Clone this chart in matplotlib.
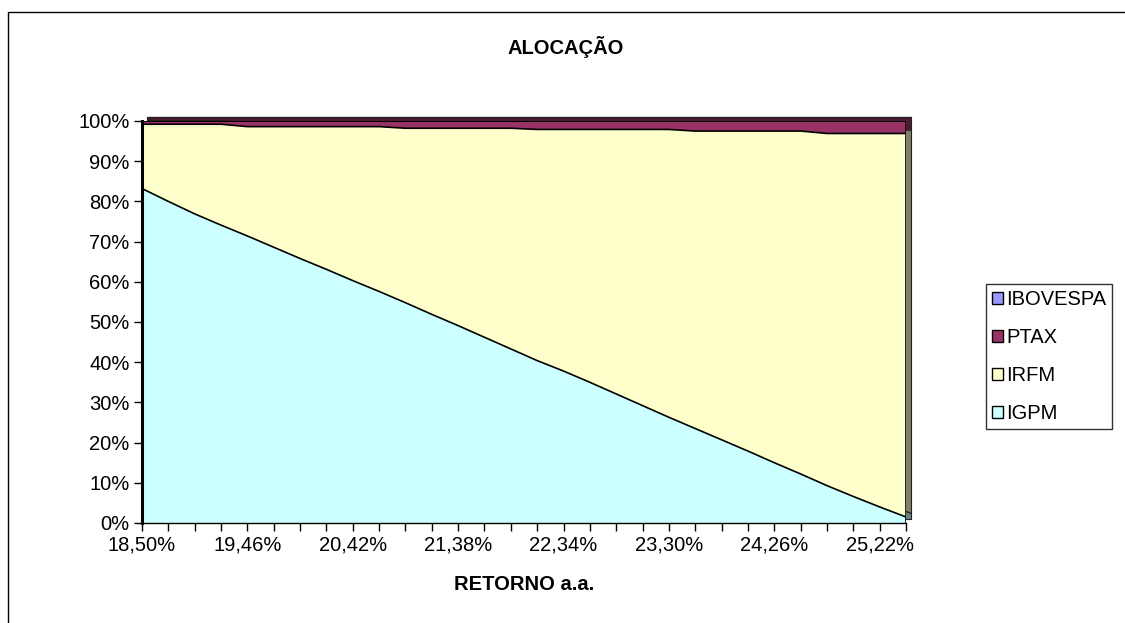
import matplotlib
matplotlib.use("Agg")
import matplotlib.pyplot as plt
import matplotlib.transforms as mtransforms
from matplotlib.patches import Rectangle, Patch
import numpy as np

plt.rcParams['font.family'] = ['Liberation Sans', 'DejaVu Sans']

# Expected annual return (category axis)
retorno = ["18,50%", "18,74%", "18,98%", "19,22%", "19,46%", "19,70%", "19,94%", "20,18%",
           "20,42%", "20,66%", "20,90%", "21,14%", "21,38%", "21,62%", "21,86%", "22,10%",
           "22,34%", "22,58%", "22,82%", "23,06%", "23,30%", "23,54%", "23,78%", "24,02%",
           "24,26%", "24,50%", "24,74%", "24,98%", "25,22%", "25,46%"]

# Portfolio allocation per asset (% of total)
igpm = [83.2, 80.0, 76.9, 74.1, 71.4, 68.6, 65.8, 63.1, 60.3, 57.6,
        54.8, 51.9, 49.1, 46.2, 43.3, 40.4, 37.8, 35.0, 32.1, 29.2,
        26.3, 23.5, 20.7, 17.9, 15.0, 12.2, 9.3, 6.6, 4.0, 1.5]
irfm = [16.0, 19.2, 22.3, 25.1, 27.2, 30.0, 32.8, 35.5, 38.3, 41.0,
        43.4, 46.3, 49.1, 52.0, 54.9, 57.5, 60.1, 62.9, 65.8, 68.7,
        71.6, 74.0, 76.8, 79.6, 82.5, 85.3, 87.6, 90.3, 92.9, 95.4]
ptax = [0.8, 0.8, 0.8, 0.8, 1.4, 1.4, 1.4, 1.4, 1.4, 1.4,
        1.8, 1.8, 1.8, 1.8, 1.8, 2.1, 2.1, 2.1, 2.1, 2.1,
        2.1, 2.5, 2.5, 2.5, 2.5, 2.5, 3.1, 3.1, 3.1, 3.1]
ibovespa = [0.0] * 30

series_names = ["IGPM", "IRFM", "PTAX", "IBOVESPA"]
front_colors = ["#CCFFFF", "#FFFFCC", "#993366", "#9999FF"]
side_colors = ["#668080", "#808066", "#4D1A33", "#4D4D80"]

FS = 14.5

fig = plt.figure(figsize=(11.25, 6.23), dpi=100)
fig.patch.set_facecolor("white")

# Outer chart-area border
fig.add_artist(Rectangle((8 / 1125, -0.05), 1.2, 1 - 12 / 623 + 0.05,
                         transform=fig.transFigure, fill=False,
                         edgecolor="black", linewidth=1.0))

ax = fig.add_axes([142 / 1125, 1 - 523 / 623, (906 - 142) / 1125, (523 - 121) / 623])

x = np.arange(len(retorno))
data = np.array([igpm, irfm, ptax, ibovespa], dtype=float)
totals = data.sum(axis=0)
pct = data / totals * 100.0
cum = np.vstack([np.zeros(len(x)), np.cumsum(pct, axis=0)])

# Depth layer (drawn slightly up and to the right, behind the front face)
depth = mtransforms.offset_copy(ax.transData, fig=fig, x=5, y=4, units="dots")
for i in range(len(series_names)):
    ax.fill_between(x, cum[i], cum[i + 1], facecolor=side_colors[i],
                    edgecolor="#222222", linewidth=0.8, transform=depth,
                    clip_on=False, zorder=1)

# Front face of the 100% stacked areas
for i in range(len(series_names)):
    ax.fill_between(x, cum[i], cum[i + 1], facecolor=front_colors[i],
                    edgecolor="none", zorder=2)
    ax.plot(x, cum[i + 1], color="black", linewidth=1.2, zorder=3,
            solid_joinstyle="round")
ax.plot([x[-1], x[-1]], [0, 100], color="black", linewidth=1.2, zorder=3)

ax.set_xlim(0, len(x) - 1)
ax.set_ylim(0, 100)
ax.set_facecolor("none")

ax.set_yticks(np.arange(0, 101, 10))
ax.set_yticklabels([f"{v}%" for v in range(0, 101, 10)])
ax.set_xticks(x)
ax.set_xticklabels([lab if i % 4 == 0 else "" for i, lab in enumerate(retorno)])
ax.tick_params(axis="both", direction="out", length=6, width=1,
               labelsize=FS, colors="black", pad=3)

for s in ("top", "right"):
    ax.spines[s].set_visible(False)
ax.spines["left"].set_linewidth(2.2)
ax.spines["bottom"].set_linewidth(1.0)
ax.spines["left"].set_zorder(4)
ax.spines["bottom"].set_zorder(4)

fig.text(566 / 1125, 1 - 47 / 623, "ALOCAÇÃO", ha="center", va="center",
         fontsize=FS, fontweight="bold")
fig.text(524 / 1125, 1 - 585 / 623, "RETORNO a.a.", ha="center", va="center",
         fontsize=FS, fontweight="bold")

handles = [Patch(facecolor=front_colors[i], edgecolor="black", linewidth=1.0)
           for i in range(len(series_names) - 1, -1, -1)]
labels = series_names[::-1]
leg = fig.legend(handles, labels, loc="upper left",
                 bbox_to_anchor=(986 / 1125, 1 - 284 / 623),
                 frameon=True, fancybox=False, fontsize=FS,
                 handlelength=0.55, handleheight=0.55, handletextpad=0.15,
                 labelspacing=0.95, borderpad=0.3, borderaxespad=0)
leg.get_frame().set_edgecolor("black")
leg.get_frame().set_linewidth(1.0)

fig.savefig("out.png", dpi=100)
